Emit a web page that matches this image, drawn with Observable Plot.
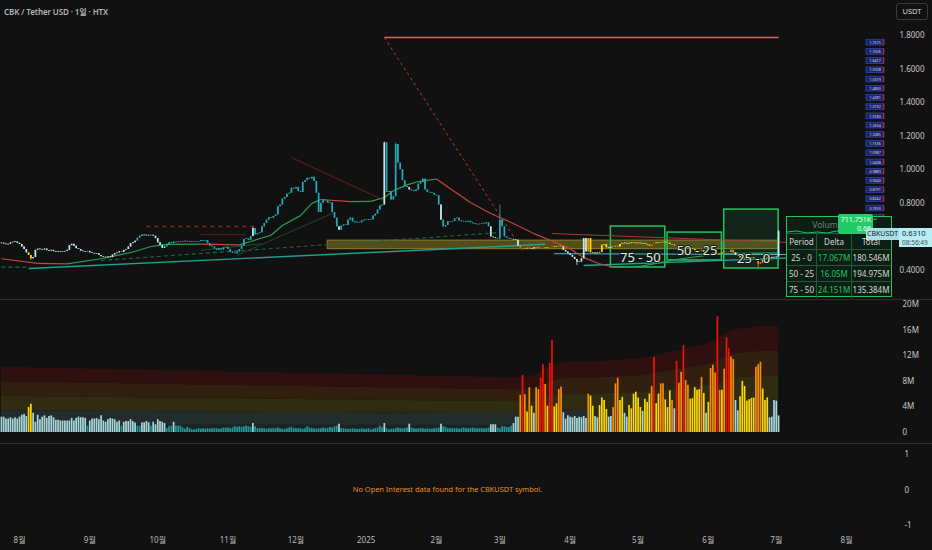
<!DOCTYPE html>
<html><head><meta charset="utf-8">
<script src="https://cdn.jsdelivr.net/npm/d3@7"></script>
<script src="https://cdn.jsdelivr.net/npm/@observablehq/plot@0.6"></script>
<style>
html,body{margin:0;padding:0;background:#111111;}
#root{position:relative;width:932px;height:550px;background:#111111;overflow:hidden;font-family:"Noto Sans","Noto Sans CJK KR",sans-serif;}
.panel{position:absolute;left:0;}
.sep{position:absolute;left:0;width:932px;height:1px;background:#2c2c2c;}
#title{position:absolute;left:4px;top:6px;font-size:8px;font-weight:600;letter-spacing:-0.1px;color:#b4b4b4;white-space:nowrap;}
#usdt{position:absolute;left:896px;top:3px;width:30px;height:15px;border:1px solid #3a3a3a;border-radius:3px;color:#d8d8d8;font-size:7.5px;line-height:15px;text-align:center;}
#table{position:absolute;left:786px;top:216px;width:106px;height:81px;border:1.5px solid #22c55e;background:rgb(13,30,21);box-sizing:border-box;font-size:8px;color:#d8d8d8;}
#table .ttl{position:absolute;left:0;top:2px;width:100%;text-align:center;color:#6f7f76;font-size:8.5px;}
#table .row{position:absolute;left:0;width:100%;height:16px;display:grid;grid-template-columns:30px 35px 38px;line-height:16px;border-top:1px solid #1f5a39;}
#table .row div{text-align:center;white-space:nowrap;border-right:1px solid #1f5a39;}
#table .row div:last-child{border-right:none;}
#table .d{color:#22c55e;}
#mini{position:absolute;left:787px;top:216px;}
#bubble{position:absolute;left:838px;top:214px;width:35px;height:20px;background:#22cc66;border-radius:2px;color:#fff;font-size:7px;line-height:9px;text-align:right;padding-right:2px;box-sizing:border-box;padding-top:1px;}
#sym{position:absolute;left:866px;top:228px;width:33px;height:12px;background:#a9dfe5;color:#12272b;font-size:7px;line-height:12px;text-align:center;}
#px{position:absolute;left:899px;top:228px;width:33px;height:19px;background:#b7eef3;color:#12272b;font-size:7.5px;line-height:9px;text-align:left;padding-left:3px;box-sizing:border-box;padding-top:1px;}
#px span{font-size:6.5px;color:#3a5358;}
</style></head>
<body><div id="root">
<div id="pricePanel" class="panel" style="top:0"></div>
<div id="volPanel" class="panel" style="top:296px"></div>
<div id="oiPanel" class="panel" style="top:443px"></div>
<div class="sep" style="top:299px"></div>
<div class="sep" style="top:443px"></div>
<div id="title">CBK / Tether USD · 1일 · HTX</div>
<div id="usdt">USDT</div>
<div id="table"></div>
<svg id="mini" width="90" height="22"><polyline points="0,16 10,15 20,17 30,16 40,17 50,15 55,16 60,15 70,15 75,16 80,4 90,3" fill="none" stroke="#1fbf66" stroke-width="1"/></svg>
<div id="bubble">711.751K<br>0.66</div>
<div id="sym">CBKUSDT</div>
<div id="px">0.6310<br><span>08:56:49</span></div>
</div>
<script>
// ---------------- DATA ----------------
const startUTC = Date.UTC(2024, 6, 24); // first daily candle (day index 0)
const firstOpen = 0.56;
const closes = [
0.563,0.558,0.553,0.556,0.565,0.568,0.570,0.562,0.555,0.540,
0.525,0.505,0.490,0.470,0.478,0.520,0.527,0.525,0.522,0.528,
0.518,0.515,0.520,0.512,0.510,0.512,0.508,0.510,0.514,0.520,
0.548,0.556,0.545,0.530,0.525,0.515,0.512,0.510,0.514,0.505,
0.502,0.498,0.500,0.490,0.482,0.478,0.476,0.480,0.477,0.492,
0.500,0.505,0.512,0.508,0.520,0.525,0.540,0.560,0.566,0.575,
0.592,0.605,0.610,0.608,0.609,0.606,0.610,0.604,0.590,0.565,
0.550,0.532,0.540,0.555,0.565,0.563,0.568,0.566,0.570,0.572,
0.570,0.574,0.571,0.568,0.573,0.570,0.569,0.572,0.578,0.575,
0.578,0.560,0.545,0.540,0.528,0.520,0.530,0.522,0.535,0.538,
0.525,0.510,0.503,0.500,0.510,0.525,0.545,0.585,0.588,0.580,
0.602,0.650,0.612,0.620,0.625,0.660,0.680,0.700,0.715,0.712,
0.722,0.730,0.780,0.790,0.825,0.835,0.855,0.860,0.890,0.885,
0.895,0.870,0.865,0.925,0.935,0.950,0.945,0.955,0.930,0.860,
0.745,0.800,0.820,0.815,0.800,0.802,0.745,0.712,0.660,0.640,
0.665,0.672,0.668,0.700,0.712,0.690,0.684,0.686,0.684,0.695,
0.700,0.703,0.698,0.702,0.725,0.735,0.760,0.785,0.790,1.160,
0.865,0.870,0.820,0.840,1.150,1.040,1.000,0.935,0.900,0.895,
0.880,0.875,0.870,0.880,0.915,0.925,0.945,0.880,0.865,0.862,
0.860,0.848,0.845,0.790,0.700,0.660,0.668,0.690,0.688,0.692,
0.708,0.712,0.695,0.690,0.692,0.688,0.693,0.684,0.678,0.675,
0.672,0.676,0.680,0.678,0.684,0.660,0.600,0.595,0.590,0.588,
0.700,0.660,0.600,0.592,0.588,0.585,0.582,0.580,0.545,0.535,
0.530,0.528,0.532,0.530,0.528,0.535,0.532,0.538,0.534,0.530,
0.536,0.532,0.535,0.538,0.540,0.542,0.545,0.540,0.520,0.510,
0.500,0.490,0.478,0.465,0.450,0.450,0.470,0.590,0.510,0.590,
0.505,0.505,0.500,0.505,0.508,0.550,0.555,0.535,0.532,0.538,
0.540,0.545,0.540,0.555,0.560,0.562,0.558,0.560,0.565,0.562,
0.560,0.563,0.558,0.561,0.556,0.552,0.545,0.550,0.560,0.565,
0.562,0.565,0.568,0.566,0.562,0.555,0.550,0.548,0.542,0.540,
0.545,0.535,0.532,0.528,0.530,0.525,0.518,0.515,0.512,0.518,
0.510,0.500,0.495,0.498,0.505,0.500,0.495,0.500,0.505,0.510,
0.512,0.508,0.520,0.505,0.490,0.485,0.475,0.470,0.472,0.468,
0.470,0.475,0.472,0.460,0.438,0.445,0.465,0.470,0.475,0.472,
0.478,0.475,0.480,0.631];
const extraHighs = [[111,0.655],[169,1.165],[174,1.16],[220,0.79],[343,0.64]];
const extraLows = [[13,0.462],[254,0.43],[334,0.418]];
// daily volume (millions)
const volumes = [
2.4,2.4,2.1,2.1,2.3,2.1,2.3,2.1,2.4,2.7,
2.8,2.5,3.9,4.4,3.0,1.6,2.7,2.0,2.4,2.6,
2.2,2.5,2.6,2.3,1.9,1.9,1.8,1.8,1.8,1.8,
1.8,2.2,1.8,2.2,2.4,2.3,2.3,2.2,1.0,1.8,
2.1,2.1,2.2,2.0,2.6,1.8,1.6,2.0,2.2,2.1,
2.0,1.6,1.8,1.0,1.6,1.7,1.7,2.0,1.7,1.5,
1.0,1.0,1.5,1.5,1.7,1.5,1.0,1.6,1.2,2.0,
1.7,1.6,1.4,0.6,0.9,1.0,1.6,1.0,1.0,1.0,
0.7,0.5,0.8,0.6,0.4,0.4,0.5,0.6,0.5,0.6,
0.5,0.6,0.5,0.6,0.6,0.6,0.5,0.6,0.7,0.7,
0.7,0.6,0.7,0.9,0.8,0.9,0.8,0.9,1.0,0.9,
0.8,1.4,0.9,0.6,0.6,0.6,0.6,0.5,0.6,0.6,
0.6,0.6,0.7,0.6,0.5,0.5,0.6,0.7,0.8,0.6,
0.6,0.6,0.6,0.5,0.6,0.9,0.7,0.6,0.6,0.5,
0.6,0.6,0.7,0.6,0.6,0.8,0.7,0.9,1.0,1.3,
0.6,0.6,0.5,0.5,0.5,0.6,0.5,0.5,0.5,0.6,
0.5,0.5,0.6,0.4,0.5,0.6,0.7,1.0,0.8,1.4,
0.6,0.4,0.5,0.5,0.6,0.7,0.6,0.6,0.6,0.7,
1.3,0.7,0.6,0.5,0.6,0.6,0.6,0.5,0.6,0.5,
0.5,0.6,0.6,0.7,1.3,0.9,0.8,0.6,0.6,0.6,
0.6,0.6,0.5,0.6,0.7,0.6,0.6,0.6,0.7,0.6,
0.6,0.6,0.6,0.6,0.6,0.7,1.2,1.2,1.2,0.7,
0.6,0.9,0.9,0.8,0.8,1.0,1.4,2.4,2.4,5.8,
8.9,5.9,3.2,7.0,4.1,3.0,7.0,6.7,8.5,10.6,
7.5,4.1,10.8,14.4,4.0,4.5,6.7,7.1,3.1,2.1,
2.6,2.4,2.3,2.5,2.2,2.4,2.3,2.5,2.2,6.0,
5.7,4.1,2.5,2.3,4.2,5.4,5.0,3.6,2.4,2.5,
3.9,7.6,8.5,5.0,5.5,3.0,2.4,4.2,3.7,6.0,
6.3,5.4,3.9,3.3,5.2,4.7,6.0,7.2,11.7,4.5,
6.0,7.6,7.6,5.1,3.9,6.5,5.0,3.7,11.1,7.7,
9.4,13.6,8.1,7.4,5.2,5.3,7.0,6.6,6.7,8.6,
6.1,3.0,4.7,10.0,10.5,9.3,18.1,6.6,6.6,9.9,
14.8,13.1,11.8,11.4,5.0,3.4,5.6,8.0,7.2,4.9,
5.1,5.3,5.4,10.2,10.6,11.0,6.8,5.0,5.4,2.3,
2.4,5.0,4.9,2.6];
// volume class per day: t = below average, w = normal, y = high, o = very high, r = extreme
const volClass = [
"wwwwwwwwww","wwyywwwwww","wwwwwwwwww","wwwwwwwwtw","wwwwwwwwww",
"wwwtwwwwww","ttwwwwtwww","wwwtttwttt","tttttttttt","tttttttttt",
"tttttttttt","twtttttttt","tttttttttt","tttttttttt","tttttttttw",
"tttttttttt","tttttttttw","tttttttttt","wttttttttt","ttttwttttt",
"tttttttttt","ttttttwwwt","ttttttwwwo","royoywoorr","oyrryyooww",
"wwwwwwwwwo","yywwyyyyww","oooyywwyyy","yyywyyyory","yooyyyowro",
"orooyyyyyo","ywyoooroyo","rroowwyyyy","yyyoooyyyw","wwww"].join("");
// moving average samples (day index, value)
const maDays = [0,16,29,44,58,66,73,88,105,110,119,124,132,137,141,154,163,169,173,179,184,192,198,207,216,225,235,250,257,264,270,282,300,317,343];
const maVals = [0.47,0.443,0.44,0.47,0.51,0.543,0.556,0.557,0.553,0.573,0.61,0.668,0.727,0.80,0.823,0.81,0.812,0.835,0.875,0.91,0.93,0.945,0.889,0.805,0.74,0.686,0.62,0.537,0.477,0.44,0.42,0.425,0.47,0.50,0.505];
// volume threshold bands: average and deviation samples (millions)
const bandDays = [0,220,229,235,242,245,250,264,272,282,300,312,320,323,334,343];
const bandMean = [1.13,1.1,1.1,1.0,1.0,1.0,1.0,1.0,1.0,1.0,1.0,1.0,1.0,1.0,1.0,1.0];
const bandDev  = [2.27,1.87,1.86,1.97,2.3,2.42,2.5,2.52,2.58,2.62,2.97,3.22,3.6,3.75,3.89,3.89];
// drawn trend lines (day, price)
const trendLines = [
 {kind:"level",     d1:169, p1:1.788, d2:343, p2:1.788},
 {kind:"dropDash",  d1:169, p1:1.788, d2:230, p2:0.52},
 {kind:"darkDiag",  d1:128, p1:1.073, d2:169, p2:0.817},
 {kind:"darkDash",  d1:64,  p1:0.662, d2:113, p2:0.662},
 {kind:"darkShort", d1:88,  p1:0.614, d2:108, p2:0.614},
 {kind:"teal",      d1:12,  p1:0.412, d2:240, p2:0.556},
 {kind:"greenDash", d1:44,  p1:0.46,  d2:220, p2:0.626},
 {kind:"greenDash", d1:0,   p1:0.42,  d2:12,  p2:0.42},
 {kind:"greenFaint",d1:104, p1:0.49,  d2:147, p2:0.746},
 {kind:"greenFaint",d1:88,  p1:0.52,  d2:115, p2:0.56},
 {kind:"cyan",      d1:244, p1:0.50,  d2:348, p2:0.495},
 {kind:"teal",      d1:257, p1:0.43,  d2:348, p2:0.475},
 {kind:"redTrend",  d1:243, p1:0.62,  d2:348, p2:0.567}
];
const zone = {d1:144, d2:343, lo:0.527, hi:0.578};
const profileBoxes = [
 {label:"75 - 50", d1:269, d2:293, lo:0.418, hi:0.662, ly:0.477},
 {label:"50 - 25", d1:294, d2:318, lo:0.46,  hi:0.626, ly:0.519},
 {label:"25 - 0",  d1:319, d2:343, lo:0.412, hi:0.763, ly:0.471}
];
const levelLabels = [1.7575,1.7026,1.6477,1.5928,1.5379,1.4830,1.4281,1.3732,1.3183,1.2634,1.2085,1.1536,1.0987,1.0438,0.9889,0.9340,0.8791,0.8242,0.7693,0.7144,0.6595,0.6046,0.5497,0.4948,0.4399];
const priceTicks = [0.4,0.8,1.0,1.2,1.4,1.6,1.8];
const volTicks = [0,4,8,12,16,20];
const oiTicks = [-1,0,1];
const monthTickDays = [8,39,69,100,130,161,192,220,251,281,312,342,373];
const monthTickLabels = ["8월","9월","10월","11월","12월","2025","2월","3월","4월","5월","6월","7월","8월"];
const tablePeriods = ["25 - 0","50 - 25","75 - 50"];
const tableDeltas = ["17.067M","16.05M","24.151M"];
const tableTotals = ["180.546M","194.975M","135.384M"];
const oiMessage = "No Open Interest data found for the CBKUSDT symbol.";

// ---------------- BUILD ----------------
const DAY = 864e5;
const day = i => new Date(startUTC + i * DAY);
const xDomain = [day(-0.4), day(392.4)];
const W = 932, MR = 42;
const font = '"Noto Sans","Noto Sans CJK KR",sans-serif';

const candleColor = {t:"#28a9b8", w:"#c2eaef", y:"#ffe000", o:"#ff8c00", r:"#ff1e00"};
const barColor = {t:"#1f9a9c", w:"#a9d8dc", y:"#ffd700", o:"#f88a0a", r:"#f01400"};

const hiMap = new Map(extraHighs), loMap = new Map(extraLows);
const candles = closes.map((c, i) => {
  const o = i ? closes[i - 1] : firstOpen;
  let b1 = Math.min(o, c), b2 = Math.max(o, c);
  if (b2 - b1 < 0.004) { const m = (b1 + b2) / 2; b1 = m - 0.002; b2 = m + 0.002; }
  return {x: day(i), b1, b2,
    hi: Math.max(b2, hiMap.get(i) ?? b2), lo: Math.min(b1, loMap.get(i) ?? b1),
    cls: volClass[i] || "w"};
});

const maSegs = [];
for (let k = 0; k < maDays.length - 1; k++) {
  maSegs.push({x1: day(maDays[k]), y1: maVals[k], x2: day(maDays[k + 1]), y2: maVals[k + 1],
    up: maVals[k + 1] >= maVals[k]});
}

const lineStyle = {
  level:     {stroke:"#d2685d", strokeWidth:1.3},
  dropDash:  {stroke:"#b83a2e", strokeWidth:1, strokeDasharray:"3,3"},
  darkDiag:  {stroke:"#6a2020", strokeWidth:1},
  darkDash:  {stroke:"#8a2424", strokeWidth:1.3, strokeDasharray:"4,4"},
  darkShort: {stroke:"#5a1c1c", strokeWidth:1},
  teal:      {stroke:"#1fa38f", strokeWidth:1.4},
  greenDash: {stroke:"#1d6b4c", strokeWidth:1.1, strokeDasharray:"4,3"},
  greenFaint:{stroke:"#1b4a34", strokeWidth:1},
  cyan:      {stroke:"#58b4cc", strokeWidth:1},
  redTrend:  {stroke:"#a83a2e", strokeWidth:1}
};
const lineMarks = Object.keys(lineStyle).map(kind =>
  Plot.link(trendLines.filter(d => d.kind === kind), {
    x1: d => day(d.d1), y1: "p1", x2: d => day(d.d2), y2: "p2", ...lineStyle[kind]
  }));

// level tags sit in a column just left of the price scale; the lower ones hide behind the table
const levelX1 = day(381.8), levelX2 = day(389.6), levelXR = day(389.4), levelXM = day(385.6);
const levelShown = levelLabels.filter(v => v > 0.7);

const pricePlot = Plot.plot({
  width: W, height: 300, marginLeft: 0, marginRight: MR, marginTop: 35, marginBottom: 30,
  style: {background: "transparent", color: "#b4b4b4", fontSize: "8px", fontFamily: font},
  x: {type: "utc", domain: xDomain, axis: null},
  y: {domain: [0.4, 1.8]},
  marks: [
    Plot.rect([zone], {x1: d => day(d.d1), x2: d => day(d.d2), y1: "lo", y2: "hi",
      fill: "#9a8826", fillOpacity: 0.5, stroke: "#8e7f2a", strokeWidth: 1}),
    Plot.rect(profileBoxes, {x1: d => day(d.d1), x2: d => day(d.d2), y1: "lo", y2: "hi",
      fill: "#1f8f4a", fillOpacity: (d, i) => i === 2 ? 0.16 : 0.08, stroke: "#22c55e", strokeWidth: 1.5}),
    ...lineMarks,
    Plot.link(maSegs, {x1: "x1", y1: "y1", x2: "x2", y2: "y2",
      stroke: d => d.up ? "#25a25a" : "#c4473a", strokeWidth: 1.2}),
    Plot.ruleX(candles, {x: "x", y1: "lo", y2: "hi", stroke: d => candleColor[d.cls], strokeWidth: 0.8}),
    Plot.ruleX(candles, {x: "x", y1: "b1", y2: "b2", stroke: d => candleColor[d.cls], strokeWidth: 1.7}),
    Plot.text(profileBoxes, {x: d => day((d.d1 + d.d2) / 2 + 1), y: "ly", text: "label",
      fill: "#e8e8e8", fontSize: 13, stroke: "#0c1f14", strokeWidth: 2, paintOrder: "stroke"}),
    Plot.rect(levelShown, {x1: levelX1, x2: levelX2, y1: d => d - 0.017, y2: d => d + 0.017,
      fill: "#1b2669", stroke: "#3148b8", strokeWidth: 0.7}),
    Plot.ruleX(levelShown, {x: levelXR, y1: d => d - 0.017, y2: d => d + 0.017, stroke: "#c22a2a", strokeWidth: 1.2}),
    Plot.text(levelShown, {x: levelXM, y: d => d, text: d => d.toFixed(4), fill: "#d8dcf5", fontSize: 3.6}),
    Plot.axisY({anchor: "right", ticks: priceTicks, tickFormat: d => d.toFixed(4), tickSize: 0, tickPadding: 9, label: null, fill: "#c8c8c8"})
  ]
});
document.getElementById("pricePanel").append(pricePlot);

// volume panel
const bands = bandDays.map((d, i) => ({x: day(d), m: bandMean[i], s: bandDev[i]}));
const bandFill = ["#1b2424", "#232c2c", "#302c11", "#311f10", "#2f1010"];
const bandMarks = bandFill.map((f, k) => Plot.areaY(bands, {
  x: "x",
  y1: d => k === 0 ? 0 : d.m + (k - 1) * d.s,
  y2: d => d.m + k * d.s,
  fill: f
}));
const bars = volumes.map((v, i) => ({x: day(i), v, cls: volClass[i] || "w"}));
const volPlot = Plot.plot({
  width: W, height: 147, marginLeft: 0, marginRight: MR, marginTop: 8, marginBottom: 11,
  style: {background: "transparent", color: "#b4b4b4", fontSize: "8px", fontFamily: font},
  x: {type: "utc", domain: xDomain, axis: null},
  y: {domain: [0, 20]},
  marks: [
    ...bandMarks,
    Plot.ruleX(bars, {x: "x", y1: 0, y2: "v", stroke: d => barColor[d.cls], strokeWidth: 1.7}),
    Plot.axisY({anchor: "right", ticks: volTicks, tickFormat: d => d === 0 ? "0" : d + "M", tickSize: 0, tickPadding: 12, label: null, fill: "#c8c8c8"})
  ]
});
document.getElementById("volPanel").append(volPlot);

// open interest panel with time axis
const monthDates = monthTickDays.map(day);
const monthMap = new Map(monthDates.map((d, i) => [+d, monthTickLabels[i]]));
const oiPlot = Plot.plot({
  width: W, height: 107, marginLeft: 0, marginRight: MR, marginTop: 11, marginBottom: 25,
  style: {background: "transparent", color: "#b4b4b4", fontSize: "8px", fontFamily: font},
  x: {type: "utc", domain: xDomain},
  y: {domain: [-1, 1]},
  marks: [
    Plot.text([oiMessage], {frameAnchor: "middle", dx: 2, fill: "#ee8e1e", fontSize: 7.4}),
    Plot.axisY({anchor: "right", ticks: oiTicks, tickFormat: d => String(d), tickSize: 0, tickPadding: 14, label: null, fill: "#c8c8c8"}),
    Plot.axisX({anchor: "bottom", ticks: monthDates, tickFormat: d => monthMap.get(+d), tickSize: 0, tickPadding: 12, label: null, fill: "#b8b8b8"})
  ]
});
document.getElementById("oiPanel").append(oiPlot);

// table overlay
const tbl = document.getElementById("table");
let html = '<div class="ttl">Volume Delta</div>';
const rows = [["Period", "Delta", "Total", true]].concat(tablePeriods.map((p, i) => [p, tableDeltas[i], tableTotals[i], false]));
rows.forEach((r, i) => {
  html += `<div class="row" style="top:${16 + i * 16}px"><div>${r[0]}</div><div class="${r[3] ? "" : "d"}">${r[1]}</div><div>${r[2]}</div></div>`;
});
tbl.innerHTML = html;
</script>
</body></html>
